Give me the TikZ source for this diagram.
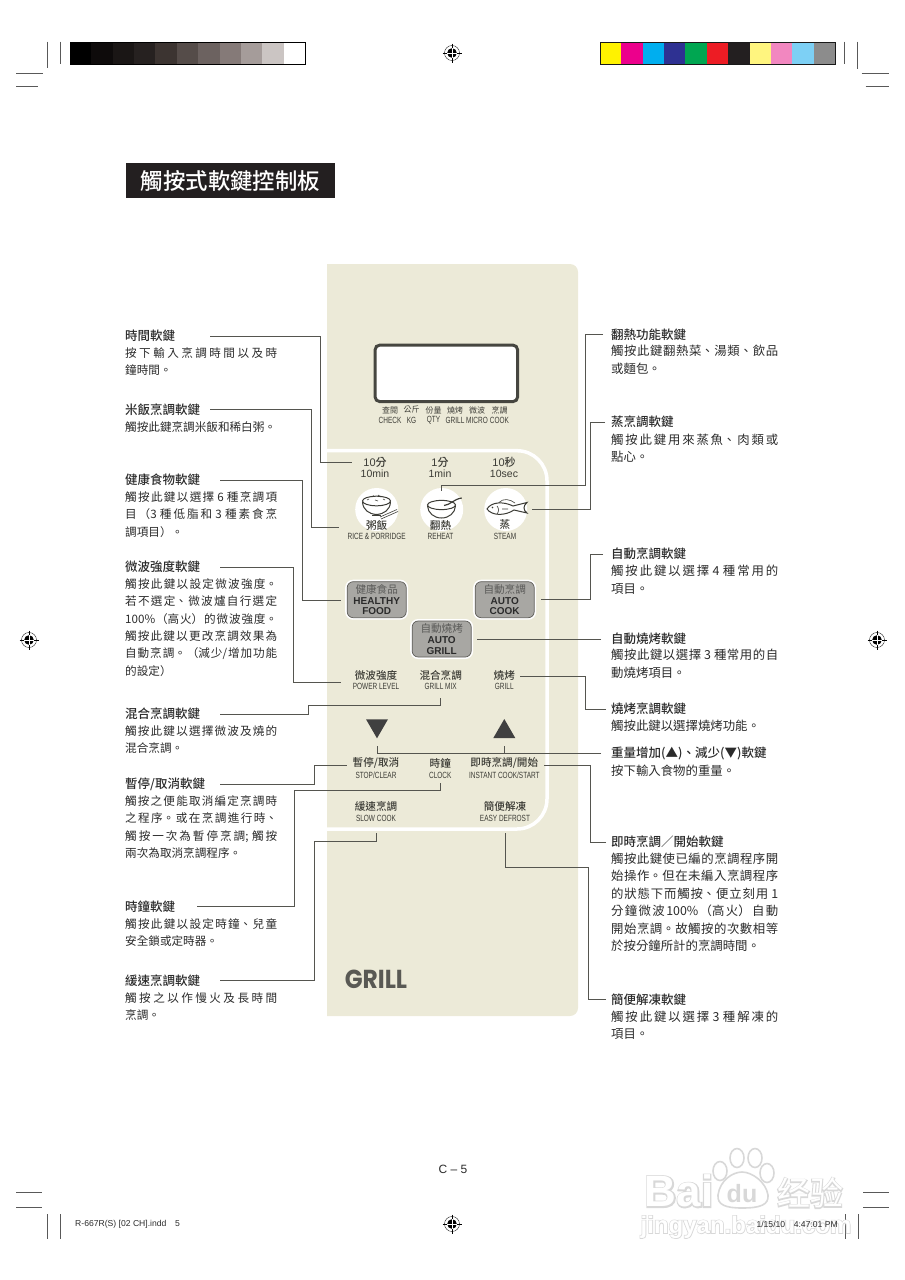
\documentclass[tikz,border=0pt]{standalone}
\usepackage{fontspec}
\usetikzlibrary{shapes.geometric}
\setmainfont{Noto Sans CJK TC}[BoldFont={Noto Sans CJK TC Medium}]
\newfontfamily\latinfont{Liberation Sans}
\newfontfamily\narrowfont[FakeStretch=0.72]{Liberation Sans}
\newfontfamily\logofont[FakeStretch=0.9]{Poppins}
\newfontfamily\wmhalofont[BoldFeatures={FakeBold=6}]{Liberation Sans}
\newfontfamily\wmcorefont{Liberation Sans}
\newfontfamily\wmhalocjk[FakeBold=6]{Noto Sans CJK SC}
\newfontfamily\wmcorecjk{Noto Sans CJK SC}
\XeTeXlinebreaklocale "zh"
\XeTeXlinebreakskip=0pt plus 4pt
\tolerance=9999
\definecolor{panelfill}{HTML}{ECEAD8}
\definecolor{inkdark}{HTML}{2B2B2B}
\definecolor{inkpanel}{HTML}{3C3C36}
\definecolor{inktitle}{HTML}{231F20}
\definecolor{leaderline}{HTML}{55554F}
\definecolor{softgray}{HTML}{A8A7A3}
\definecolor{softedge}{HTML}{5E5D58}
\definecolor{softzhink}{HTML}{5A5A58}
\definecolor{wmgray}{HTML}{D8D8D8}
\tikzset{
  leader/.style={draw=leaderline, line width=0.95pt},
  cropline/.style={draw=black!65, line width=0.5pt},
  keyhead/.style={anchor=west, inner sep=0pt, text=inkdark, font=\fontsize{12.5}{15}\selectfont\bfseries},
  keybody/.style={anchor=north west, inner sep=0pt, yshift=5.8pt, text=inkdark, text width=152pt, align=justify, font=\fontsize{11.6}{17.4}\selectfont},
  keybodyr/.style={keybody, yshift=0.4pt, text width=167pt, font=\fontsize{12.4}{17.4}\selectfont},
  panelzh/.style={inner sep=0pt, text=inkpanel, font=\fontsize{10.6}{12}\selectfont\bfseries},
  panelen/.style={inner sep=0pt, text=inkpanel, font=\fontsize{9}{10}\selectfont\narrowfont},
  softkey/.style={rounded corners=6pt, draw=softedge, line width=0.7pt, fill=softgray, inner sep=0pt,
    minimum width=59pt, minimum height=36pt, align=center, text=inkdark,
    font=\fontsize{10}{10.8}\selectfont\latinfont\bfseries,
    preaction={draw=white, line width=4pt}},
  iconcircle/.style={circle, fill=white, inner sep=0pt, minimum size=43pt},
  iconline/.style={draw=inkpanel, line width=1pt},
  arrowkey/.style={regular polygon, regular polygon sides=3, fill=inkdark!90, inner sep=0pt, outer sep=0pt, minimum size=25.4pt},
  regmark/.pic={
    \draw[black, line width=0.35pt] (0,0) circle (7.5);
    \fill[black] (0,0) circle (4.8);
    \draw[black, line width=0.35pt] (-9.5,0) -- (9.5,0) (0,-9.5) -- (0,9.5);
    \draw[white, line width=0.35pt] (-4.8,0) -- (4.8,0) (0,-4.8) -- (0,4.8);
  }
}
\newcommand{\softzh}[1]{{\color{softzhink}\rmfamily\mdseries\fontsize{10.6}{10.8}\selectfont #1}}
\begin{document}
\begin{tikzpicture}[x=1pt, y=-1pt]
    \useasboundingbox (0,0) rectangle (905,1280);
    % colour bars and printer marks
    \foreach \c [count=\i from 0] in {000000,0E0B0B,1A1615,262120,3C3431,554C49,6C6260,857A78,A59C9A,CBC5C3,FFFFFF}{
        \definecolor{barcol}{HTML}{\c}
        \fill[barcol] (70+\i*21.36,42.3) rectangle ++(21.36,21.7);
    }
    \draw[black, line width=0.9pt] (70,42.3) rectangle (305,64);
    \foreach \c [count=\i from 0] in {FFF200,EC008C,00AEEF,2E3192,00A651,ED1C24,231F20,FFF57F,F287C0,7DD0F5,8C8C8C}{
        \definecolor{barcol}{HTML}{\c}
        \fill[barcol] (600+\i*21.36,42.3) rectangle ++(21.36,21.7);
    }
    \draw[black!90, line width=0.9pt] (600,42.3) rectangle (835,64);
    \draw[cropline] (47.3,41.7) -- (47.3,68) (60.3,41.7) -- (60.3,64);
    \draw[cropline] (16,73.3) -- (42.7,73.3) (16,86) -- (38.3,86);
    \draw[cropline] (844.3,41.7) -- (844.3,64) (857.3,41.7) -- (857.3,69);
    \draw[cropline] (861.7,73.3) -- (889,73.3) (865.7,86) -- (889,86);
    \draw[cropline] (16,1192) -- (42,1192) (16,1207) -- (42,1207);
    \draw[cropline] (863,1192) -- (889,1192) (863,1207) -- (889,1207);
    \draw[cropline] (47.5,1214) -- (47.5,1239) (60.5,1214) -- (60.5,1239);
    \draw[cropline] (845,1214) -- (845,1239) (858,1214) -- (858,1239);
    \pic at (452,53) {regmark};
    \pic at (29,640) {regmark};
    \pic at (877,640) {regmark};
    \pic at (452,1224) {regmark};
    % title
    \node[fill=inktitle, text=white, minimum width=209pt, minimum height=34.4pt, inner sep=0pt,
        font=\fontsize{22.4}{24}\selectfont\bfseries] (title) at (230.5,180.5) {觸按式軟鍵控制板};
    % panel
    \fill[panelfill] (327,264) [rounded corners=8pt] -- (578,264) -- (578,1016) [sharp corners] -- (327,1016) -- cycle;
    \draw[white, line width=3.5pt, rounded corners=30pt] (327,450.7) -- (547,450.7) -- (547,829) -- (327,829);
    \draw[draw=inkpanel!95, fill=white, line width=3pt, rounded corners=5pt] (375,345) rectangle (517.7,401.7);
    \foreach \x/\zh/\en in {390/查閱/CHECK, 411.5/公斤/KG, 433.5/份量/QTY, 455/燒烤/GRILL, 477/微波/MICRO, 499.5/烹調/COOK}{
        \node[panelzh, font=\fontsize{8}{9}\selectfont] (disp\en) at (\x,410) {\zh};
        \node[panelen] (disp\en en) at (\x,420.7) {\en};
    }
    % time labels
    \node[panelzh, font=\fontsize{11}{12}\selectfont\bfseries] (tenzh) at (375,462.5) {{\latinfont\mdseries 10}分};
    \node[panelen, font=\fontsize{10.5}{12}\selectfont\latinfont] (tenen) at (375,474) {10min};
    \node[panelzh, font=\fontsize{11}{12}\selectfont\bfseries] (onezh) at (440,462.5) {{\latinfont\mdseries 1}分};
    \node[panelen, font=\fontsize{10.5}{12}\selectfont\latinfont] (oneen) at (440,474) {1min};
    \node[panelzh, font=\fontsize{11}{12}\selectfont\bfseries] (seczh) at (504,462.5) {{\latinfont\mdseries 10}秒};
    \node[panelen, font=\fontsize{10.5}{12}\selectfont\latinfont] (secen) at (504,474) {10sec};
    % round keys
    \node[iconcircle] (rice) at (376.7,509.5) {};
    \node[iconcircle] (reheat) at (441.7,509.5) {};
    \node[iconcircle] (steam) at (505.7,509.5) {};
    % rice bowl
    \draw[iconline, fill=white] (376.5,501) ellipse (14 and 4.8);
    \draw[iconline] (362.5,502) .. controls (363,510) and (369,514) .. (376.5,514.5) .. controls (384,514) and (390,510) .. (390.5,502);
    \draw[iconline, line width=0.6pt] (372,497) -- (374,495.5) (378,495) -- (381,497) (383,499) -- (385,500) (367,500) -- (369,499) (375,500) -- (378,501);
    \draw[iconline, line width=1.6pt] (372,515.5) -- (381,515.5);
    \draw[iconline, line width=0.6pt] (380,517) -- (397,509.5) (381,519) -- (398,511.5);
    % soup bowl
    \draw[iconline, fill=white] (441.5,505) ellipse (14 and 4.6);
    \draw[iconline] (427.5,506) .. controls (428,513) and (434,518) .. (441.5,518) .. controls (449,518) and (455,513) .. (455.5,506);
    \draw[iconline, line width=1.2pt] (444,505.5) .. controls (450,505) and (454,499) .. (461.7,498);
    % fish
    \draw[iconline, fill=white] (487,509) .. controls (491,502) and (503,501) .. (513,506) -- (527,502.5) .. controls (523,506) and (523,510) .. (527,513) -- (514,510) .. controls (505,516) and (492,516) .. (487,509) -- cycle;
    \draw[iconline, line width=0.6pt] (497,506) .. controls (499,508) and (499,512) .. (497,514) (502,509) -- (508,509);
    \draw[iconline, line width=0.6pt] (499,502.5) .. controls (503,498) and (510,499) .. (515,503);
    \fill[inkpanel] (492.5,507.5) circle (0.9);
    \node[panelzh] (ricezh) at (376.7,525) {粥飯};
    \node[panelen] (riceen) at (376.7,536.7) {RICE \& PORRIDGE};
    \node[panelzh] (reheatzh) at (440.5,525) {翻熱};
    \node[panelen] (reheaten) at (440.5,536.7) {REHEAT};
    \node[panelzh] (steamzh) at (505,525) {蒸};
    \node[panelen] (steamen) at (505,536.7) {STEAM};
    % soft keys
    \node[softkey] (healthy) at (376.7,599.7) {\softzh{健康食品}\\HEALTHY\\FOOD};
    \node[softkey] (autocook) at (504.7,599.7) {\softzh{自動烹調}\\AUTO\\COOK};
    \node[softkey] (autogrill) at (441.7,639) {\softzh{自動燒烤}\\AUTO\\GRILL};
    \node[panelzh] (powerzh) at (376,675) {微波強度};
    \node[panelen] (poweren) at (376,686.7) {POWER LEVEL};
    \node[panelzh] (mixzh) at (440.7,675) {混合烹調};
    \node[panelen] (mixen) at (440.7,686.7) {GRILL MIX};
    \node[panelzh] (grillzh) at (504.3,675) {燒烤};
    \node[panelen] (grillen) at (504.3,686.7) {GRILL};
    \node[arrowkey, shape border rotate=180] (downkey) at (377,725.6) {};
    \node[arrowkey] (upkey) at (504.3,731.7) {};
    \node[panelzh] (stopzh) at (376,763.3) {暫停/取消};
    \node[panelen] (stopen) at (376,775) {STOP/CLEAR};
    \node[panelzh] (clockzh) at (440.3,763.3) {時鐘};
    \node[panelen] (clocken) at (440.3,775) {CLOCK};
    \node[panelzh] (instzh) at (504.3,763.3) {即時烹調/開始};
    \node[panelen] (insten) at (504.3,775) {INSTANT COOK/START};
    \node[panelzh] (slowzh) at (376,806.7) {緩速烹調};
    \node[panelen] (slowen) at (376,818.3) {SLOW COOK};
    \node[panelzh] (easyzh) at (505,806.7) {簡便解凍};
    \node[panelen] (easyen) at (505,818.3) {EASY DEFROST};
    \node[inner sep=0pt, text=inkpanel!85, font=\fontsize{26}{28}\selectfont\logofont\bfseries] (logo) at (376,979.5) {GRILL};
    % left column
    \node[keyhead] (timehead) at (125,336) {時間軟鍵};
    \node[keybody] (timebody) at (125,353) {按下輸入烹調時間以及時\linebreak 鐘時間。};
    \node[keyhead] (ricehead) at (125,409.5) {米飯烹調軟鍵};
    \node[keybody] (ricebody) at (125,427) {觸按此鍵烹調米飯和稀白粥。};
    \node[keyhead] (healthhead) at (125,480) {健康食物軟鍵};
    \node[keybody] (healthbody) at (125,497) {觸按此鍵以選擇 6 種烹調項\linebreak 目（3 種低脂和 3 種素食烹\linebreak 調項目）。};
    \node[keyhead] (powerhead) at (125,567) {微波強度軟鍵};
    \node[keybody] (powerbody) at (125,584) {觸按此鍵以設定微波強度。\linebreak 若不選定、微波爐自行選定\linebreak 100\%（高火）的微波強度。\linebreak 觸按此鍵以更改烹調效果為\linebreak 自動烹調。（減少/增加功能\linebreak 的設定）};
    \node[keyhead] (mixhead) at (125,714) {混合烹調軟鍵};
    \node[keybody] (mixbody) at (125,731) {觸按此鍵以選擇微波及燒的\linebreak 混合烹調。};
    \node[keyhead] (stophead) at (125,784) {暫停/取消軟鍵};
    \node[keybody] (stopbody) at (125,801) {觸按之便能取消編定烹調時\linebreak 之程序。或在烹調進行時、\linebreak 觸按一次為暫停烹調; 觸按\linebreak 兩次為取消烹調程序。};
    \node[keyhead] (clockhead) at (125,906.7) {時鐘軟鍵};
    \node[keybody] (clockbody) at (125,924) {觸按此鍵以設定時鐘、兒童\linebreak 安全鎖或定時器。};
    \node[keyhead] (slowhead) at (125,980.5) {緩速烹調軟鍵};
    \node[keybody] (slowbody) at (125,998) {觸按之以作慢火及長時間\linebreak 烹調。};
    % right column
    \node[keyhead] (reheathead) at (611,334.7) {翻熱功能軟鍵};
    \node[keybodyr] (reheatbody) at (611,351.5) {觸按此鍵翻熱菜、湯類、飲品\linebreak 或麵包。};
    \node[keyhead] (steamhead) at (611,422) {蒸烹調軟鍵};
    \node[keybodyr] (steambody) at (611,440) {觸按此鍵用來蒸魚、肉類或\linebreak 點心。};
    \node[keyhead] (autohead) at (611,554) {自動烹調軟鍵};
    \node[keybodyr] (autobody) at (611,571.5) {觸按此鍵以選擇 4 種常用的\linebreak 項目。};
    \node[keyhead] (agrillhead) at (611,639) {自動燒烤軟鍵};
    \node[keybodyr] (agrillbody) at (611,655.5) {觸按此鍵以選擇 3 種常用的自\linebreak 動燒烤項目。};
    \node[keyhead] (grillhead) at (611,709) {燒烤烹調軟鍵};
    \node[keybodyr] (grillbody) at (611,726) {觸按此鍵以選擇燒烤功能。};
    \node[keyhead] (weighthead) at (611,753.3) {重量增加(▲)、減少(▼)軟鍵};
    \node[keybodyr] (weightbody) at (611,771) {按下輸入食物的重量。};
    \node[keyhead] (insthead) at (611,842) {即時烹調／開始軟鍵};
    \node[keybodyr] (instbody) at (611,859) {觸按此鍵使已編的烹調程序開\linebreak 始操作。但在未編入烹調程序\linebreak 的狀態下而觸按、便立刻用 1\linebreak 分鐘微波100\%（高火）自動\linebreak 開始烹調。故觸按的次數相等\linebreak 於按分鐘所計的烹調時間。};
    \node[keyhead] (easyhead) at (611,999.5) {簡便解凍軟鍵};
    \node[keybodyr] (easybody) at (611,1016.5) {觸按此鍵以選擇 3 種解凍的\linebreak 項目。};
    % connectors
    \coordinate (timebend) at (320,462.5);
    \coordinate (ricebend) at (311,527);
    \coordinate (healthbend) at (302,600.7);
    \coordinate (powerbend) at (293,682.7);
    \coordinate (mixbend) at (308,705.7);
    \coordinate (stopbend) at (314,765.3);
    \coordinate (clockbend) at (294,790.7);
    \coordinate (slowbend) at (314,841.5);
    \coordinate (reheatbend) at (585,485.5);
    \coordinate (steambend) at (590.7,509.5);
    \coordinate (autobend) at (590.7,599.7);
    \coordinate (grillbend) at (585,676.7);
    \coordinate (instbend) at (590,765);
    \coordinate (easybend) at (588,867.7);
    \draw[leader] ([xshift=35pt]timehead.east) -| (timebend) -- ([xshift=-11pt]tenzh.west);
    \draw[leader] ([xshift=10pt]ricehead.east) -| (ricebend) -- ([xshift=-27pt,yshift=-2pt]ricezh.west);
    \draw[leader] ([xshift=20pt]healthhead.east) -| (healthbend) -- ([xshift=-6pt,yshift=-1pt]healthy.west);
    \draw[leader] ([xshift=20pt]powerhead.east) -| (powerbend) -- ([xshift=-13.8pt,yshift=-7.7pt]powerzh.west);
    \draw[leader] ([xshift=20pt]mixhead.east) -| (mixbend) -| ([yshift=-7.7pt]mixen.south);
    \draw[leader] ([xshift=15pt]stophead.east) -| (stopbend) -- ([xshift=-5.7pt,yshift=-2pt]stopzh.west);
    \draw[leader] ([xshift=22pt]clockhead.east) -| (clockbend) -| ([yshift=-4.7pt]clocken.south);
    \draw[leader] ([xshift=20pt]slowhead.east) -| (slowbend) -| ([yshift=-11.4pt]slowen.south);
    \draw[leader] ([xshift=-8pt]reheathead.west) -| (reheatbend) -| ([yshift=-3pt]reheat.north);
    \draw[leader] ([xshift=-6pt]steamhead.west) -| (steambend) -- ([xshift=5pt]steam.east);
    \draw[leader] ([xshift=-8pt]autohead.west) -| (autobend) -- ([xshift=6pt]autocook.east);
    \draw[leader] ([xshift=-10pt]agrillhead.west) -- ([xshift=5.7pt]autogrill.east);
    \draw[leader] ([xshift=-5pt]grillhead.west) -| (grillbend) -- ([xshift=5pt,yshift=-1.7pt]grillzh.east);
    \draw[leader] ([xshift=-10pt]weighthead.west) -| ([yshift=-8pt]downkey.south);
    \draw[leader] ([yshift=-8pt]upkey.south) -- (upkey.south |- weighthead.west);
    \draw[leader] ([xshift=-5pt]insthead.west) -| (instbend) -- ([xshift=5.7pt,yshift=-1.7pt]instzh.east);
    \draw[leader] ([xshift=-5pt]easyhead.west) -| (easybend) -| ([yshift=-11.4pt]easyen.south);
    % watermark
    \foreach \w/\v in {wmgray/0, white/1}{
        \ifnum\v=0 \def\wmf{\wmhalofont}\def\wmc{\wmhalocjk}\else \def\wmf{\wmcorefont}\def\wmc{\wmcorecjk}\fi
        \node[inner sep=0pt, text=\w, font=\fontsize{44}{46}\selectfont\wmf\bfseries] (wmbai\v) at (679,1191) {Bai};
        \node[inner sep=0pt, text=\w, font=\fontsize{33}{36}\selectfont\wmc] (wmjing\v) at (810,1193) {经验};
        \node[inner sep=0pt, text=\w, font=\fontsize{24}{28}\selectfont\wmf\bfseries] (wmurl\v) at (746,1227) {jingyan.baidu.com};
    }
    \draw[wmgray, line width=1.6pt, fill=white] (720,1171) ellipse (7 and 9.5) (737,1158) ellipse (7 and 9.5) (755,1158) ellipse (7 and 9.5) (767,1173) ellipse (7 and 9.5);
    \draw[wmgray, line width=1.6pt, fill=white] (718,1195) .. controls (720,1180) and (733,1172) .. (742,1172) .. controls (752,1172) and (766,1182) .. (768,1195) .. controls (769,1205) and (760,1208) .. (742,1208) .. controls (726,1208) and (717,1205) .. (718,1195) -- cycle;
    \node[inner sep=0pt, text=wmgray, font=\fontsize{25}{28}\selectfont\latinfont\bfseries] (wmdu) at (742,1194) {du};
    % page texts
    \node[inner sep=0pt, text=inkdark, font=\fontsize{12}{14}\selectfont\latinfont] (pagenum) at (453,1169) {C – 5};
    \node[anchor=west, inner sep=0pt, text=inkdark, font=\fontsize{8.6}{10}\selectfont\latinfont] (slugfile) at (75,1224) {R-667R(S) [02 CH].indd\quad 5};
    \node[anchor=east, inner sep=0pt, text=inkdark, font=\fontsize{8.6}{10}\selectfont\latinfont] (slugdate) at (838,1224) {1/15/10\quad 4:47:01 PM};
\end{tikzpicture}
\end{document}
